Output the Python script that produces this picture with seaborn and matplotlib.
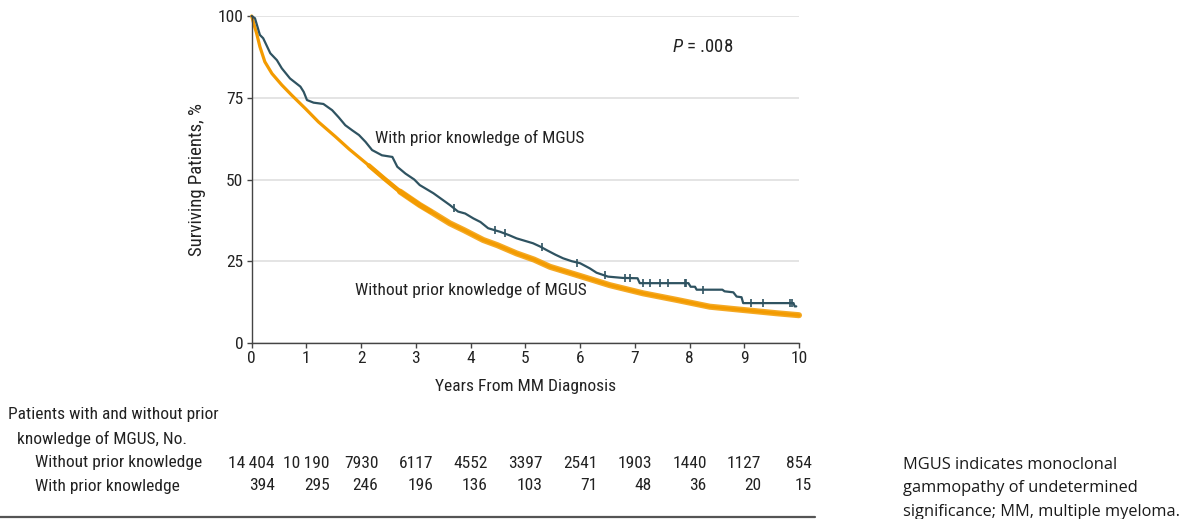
import numpy as np
import pandas as pd
import seaborn as sns
import matplotlib
matplotlib.use("Agg")
import matplotlib.pyplot as plt
from matplotlib import font_manager as fm
from matplotlib.lines import Line2D
from matplotlib.transforms import blended_transform_factory

# Kaplan-Meier estimates, % surviving by years from MM diagnosis
with_years = [0, 0.06, 0.15, 0.21, 0.34, 0.46, 0.55, 0.70, 0.89, 0.95, 1.01, 1.13, 1.31, 1.47,
              1.59, 1.71, 1.84, 1.96, 2.08, 2.20, 2.38, 2.57, 2.66, 2.81, 2.97, 3.07, 3.32, 3.47,
              3.62, 3.77, 3.90, 4.05, 4.18, 4.32, 4.54, 4.70, 4.84, 5.00, 5.14, 5.27, 5.39, 5.55,
              5.69, 5.85, 6.00, 6.18, 6.30, 6.51, 6.78, 7.05, 7.09, 7.98, 8.02, 8.10, 8.13, 8.60,
              8.64, 8.80, 8.86, 8.95, 8.98, 9.90, 9.92, 9.95]
with_surv = [100, 99.3, 94.2, 93.2, 88.6, 86.5, 84.0, 80.9, 78.4, 76.8, 74.3, 73.5, 73.1, 71.2,
             69.0, 66.6, 65.0, 63.6, 61.5, 59.0, 57.4, 56.9, 53.9, 51.8, 50.0, 48.3, 45.8, 44.0,
             42.2, 40.2, 39.6, 38.1, 37.0, 35.1, 34.0, 33.0, 32.0, 31.2, 30.5, 29.5, 28.4, 27.0,
             25.9, 25.0, 24.4, 22.8, 21.5, 20.3, 19.9, 19.8, 18.3, 18.3, 17.2, 17.2, 16.3, 16.3,
             15.8, 15.5, 14.2, 14.0, 12.2, 12.2, 11.2, 11.2]
with_censored = [3.70, 4.45, 4.62, 5.30, 5.95, 6.45, 6.82, 6.91, 7.15, 7.27, 7.46, 7.61, 7.91,
                 7.94, 8.25, 9.13, 9.34, 9.83, 9.88]

without_years = [0, 0.04, 0.09, 0.15, 0.24, 0.37, 0.55, 0.73, 0.98, 1.22, 1.53, 1.78, 2.14, 2.42,
                 2.71, 3.07, 3.27, 3.62, 3.88, 4.23, 4.49, 4.84, 5.16, 5.45, 6.00, 6.54, 7.15, 7.76,
                 8.37, 8.98, 9.59, 10.0]
without_surv = [100, 97.5, 94.7, 90.6, 86.0, 82.4, 78.9, 75.8, 71.7, 67.6, 63.1, 59.3, 54.3, 50.3,
                46.3, 42.2, 40.2, 36.6, 34.5, 31.5, 29.9, 27.4, 25.5, 23.3, 20.5, 17.7, 15.2, 13.2,
                11.1, 10.1, 9.1, 8.5]

# Number at risk
risk_years = list(range(0, 11))
risk_without = [14404, 10190, 7930, 6117, 4552, 3397, 2541, 1903, 1440, 1127, 854]
risk_with = [394, 295, 246, 196, 136, 103, 71, 48, 36, 20, 15]

TEAL = "#2f5361"
ORANGE = "#f39b00"
INK = "#222222"
FS = 12.5

sns.set_theme(style="white")
names = {f.name for f in fm.fontManager.ttflist}
narrow = next((n for n in ["Liberation Sans Narrow", "Roboto Condensed", "DejaVu Sans Condensed"]
               if n in names), "DejaVu Sans")
body = next((n for n in ["Open Sans", "Noto Sans", "Lato"] if n in names), "DejaVu Sans")
plt.rcParams["font.family"] = [narrow, "DejaVu Sans"]
plt.rcParams["mathtext.fontset"] = "custom"
plt.rcParams["mathtext.it"] = f"{narrow}:italic"
plt.rcParams["mathtext.rm"] = narrow
plt.rcParams["text.color"] = INK

W, H = 1186, 519
fig = plt.figure(figsize=(W / 100, H / 100), dpi=100)
x0, x1, ytop, ybot = 251.7, 799.0, 16.0, 343.0
ax = fig.add_axes([x0 / W, 1 - ybot / H, (x1 - x0) / W, (ybot - ytop) / H])

without_df = pd.DataFrame({"years": without_years, "surv": without_surv})
with_df = pd.DataFrame({"years": with_years, "surv": with_surv})

# Without prior knowledge: dense censoring thickens the curve from ~2.5 years on
sns.lineplot(data=without_df, x="years", y="surv", estimator=None, sort=False,
             color=ORANGE, lw=2.3, ax=ax)
mid = without_df[(without_df["years"] >= 2.14) & (without_df["years"] <= 3.27)]
sns.lineplot(data=mid, x="years", y="surv", estimator=None, sort=False,
             color=ORANGE, lw=3.3, ax=ax)
late = without_df[without_df["years"] >= 2.71]
sns.lineplot(data=late, x="years", y="surv", estimator=None, sort=False,
             color=ORANGE, lw=4.4, alpha=0.85, ax=ax)

# With prior knowledge, with censor ticks
sns.lineplot(data=with_df, x="years", y="surv", estimator=None, sort=False,
             color=TEAL, lw=1.6, ax=ax)
cens_df = pd.DataFrame({"years": with_censored,
                        "surv": np.interp(with_censored, with_years, with_surv)})
sns.scatterplot(data=cens_df, x="years", y="surv", marker="|", s=28, color=TEAL,
                linewidth=1.2, ax=ax, zorder=4)
for ln in ax.lines:
    ln.set_clip_on(False)

ax.set_xlim(0, 10)
ax.set_ylim(0, 100)
ax.set_xticks(risk_years)
ax.set_yticks([0, 25, 50, 75, 100])
ax.yaxis.grid(True, color="#e2e2e2", lw=1.3)
ax.xaxis.grid(False)
ax.set_axisbelow(True)
for s in ["top", "right"]:
    ax.spines[s].set_visible(False)
for s in ["left", "bottom"]:
    ax.spines[s].set_color("#444444")
    ax.spines[s].set_linewidth(1.0)
ax.tick_params(axis="both", direction="out", length=3.5, width=1.0, color="#444444",
               labelsize=12.5, labelcolor=INK, pad=2.5, bottom=True, left=True)

ax.set_xlabel("Years From MM Diagnosis", fontsize=FS, color=INK, va="center")
ax.xaxis.set_label_coords(0.5, -(386 - ybot) / (ybot - ytop))
ax.set_ylabel("Surviving Patients, %", fontsize=13.5, color=INK, va="center")
ax.yaxis.set_label_coords((197 - x0) / (x1 - x0), 0.5)

ax.text(2.25, 62.6, "With prior knowledge of MGUS", fontsize=FS, ha="left", va="center")
ax.text(1.89, 16.2, "Without prior knowledge of MGUS", fontsize=FS, ha="left", va="center")
ax.text(7.68, 90.5, r"$P$ = .008", fontsize=13.5, ha="left", va="center")

# Number-at-risk table
fy = lambda px: 1 - px / H
fig.text(8 / W, fy(415), "Patients with and without prior", fontsize=FS, va="center")
fig.text(17 / W, fy(439), "knowledge of MGUS, No.", fontsize=FS, va="center")
fig.text(35 / W, fy(463), "Without prior knowledge", fontsize=FS, va="center")
fig.text(35 / W, fy(486), "With prior knowledge", fontsize=FS, va="center")

def fmt(n):
    return f"{n:,}".replace(",", "\u2009") if n >= 10000 else str(n)

trans = blended_transform_factory(ax.transData, fig.transFigure)
top_texts = [fig.text(x, fy(463), fmt(n), transform=trans, fontsize=FS, ha="center", va="center")
             for x, n in zip(risk_years, risk_without)]
fig.canvas.draw()
renderer = fig.canvas.get_renderer()
for t, n in zip(top_texts, risk_with):
    right = t.get_window_extent(renderer).x1
    fig.text(right / fig.bbox.width, fy(486), str(n), fontsize=FS, ha="right", va="center")

fig.add_artist(Line2D([0, 815 / W], [fy(516.5)] * 2, transform=fig.transFigure,
                      color="#555555", lw=1.6))

for i, line in enumerate(["MGUS indicates monoclonal", "gammopathy of undetermined",
                          "significance; MM, multiple myeloma."]):
    fig.text(903 / W, fy(465 + 23.5 * i), line, fontsize=11.8, family=[body, "DejaVu Sans"],
             va="center", color="#1a1a1a")

fig.savefig("out.png", dpi=100)
